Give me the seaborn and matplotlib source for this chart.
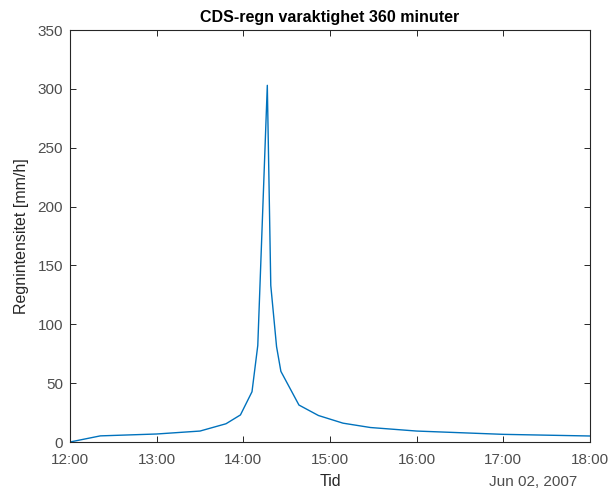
import numpy as np
import pandas as pd
import matplotlib
matplotlib.use("Agg")
import matplotlib.pyplot as plt
import matplotlib.dates as mdates
import seaborn as sns

# Data (minutes after 12:00, intensity mm/h)
minutes = [0, 21, 60, 90, 108, 118, 126, 130, 136.6, 139, 143, 146, 158.5, 172, 189, 208, 240, 300, 360]
intensity = [0, 5.2, 6.8, 9.3, 15.5, 23, 42.7, 82, 303, 133, 81, 60, 31.4, 22.5, 16, 12.3, 9.3, 6.5, 5.1]
start = "2007-06-02 12:00"
xtick_hours = ["12:00", "13:00", "14:00", "15:00", "16:00", "17:00", "18:00"]
yticks = [0, 50, 100, 150, 200, 250, 300, 350]

sns.set_theme(style="white")
plt.rcParams['font.family'] = ['Liberation Sans', 'DejaVu Sans']

t0 = pd.Timestamp(start)
df = pd.DataFrame({
    "Tid": [t0 + pd.Timedelta(minutes=m) for m in minutes],
    "I": intensity,
})

fig = plt.figure(figsize=(6.11, 4.90), dpi=100)
ax = fig.add_axes([70/611, 1-442/490, 520/611, 412/490])
sns.lineplot(data=df, x="Tid", y="I", ax=ax, color="#0072BD", linewidth=1.0)

ax.set_xlim(t0, t0 + pd.Timedelta(hours=6))
ax.set_ylim(0, 350)
ax.set_yticks(yticks)
ax.set_xticks([t0 + pd.Timedelta(hours=h) for h in range(7)])
ax.set_xticklabels(xtick_hours)

tc = "#262626"
for s in ax.spines.values():
    s.set_color(tc)
    s.set_linewidth(0.8)
ax.tick_params(direction="in", length=4, width=0.7, colors=tc, labelsize=11,
               top=True, right=True, bottom=True, left=True)
ax.tick_params(axis="x", pad=8)
ax.tick_params(axis="y", pad=5)
for lab in ax.get_xticklabels() + ax.get_yticklabels():
    lab.set_color("#4d4d4d")

ax.set_xlabel("Tid", fontsize=11.5, color="#262626", labelpad=5)
ax.set_ylabel("Regnintensitet [mm/h]", fontsize=11.5, color="#262626", labelpad=6)
ax.set_title("CDS-regn varaktighet 360 minuter", fontsize=11.5, fontweight="bold", color="black", pad=6)
fig.text(577/611, 1-482/490, "Jun 02, 2007", ha="right", va="center", fontsize=11, color="#4d4d4d")

fig.savefig("out.png", dpi=100)
